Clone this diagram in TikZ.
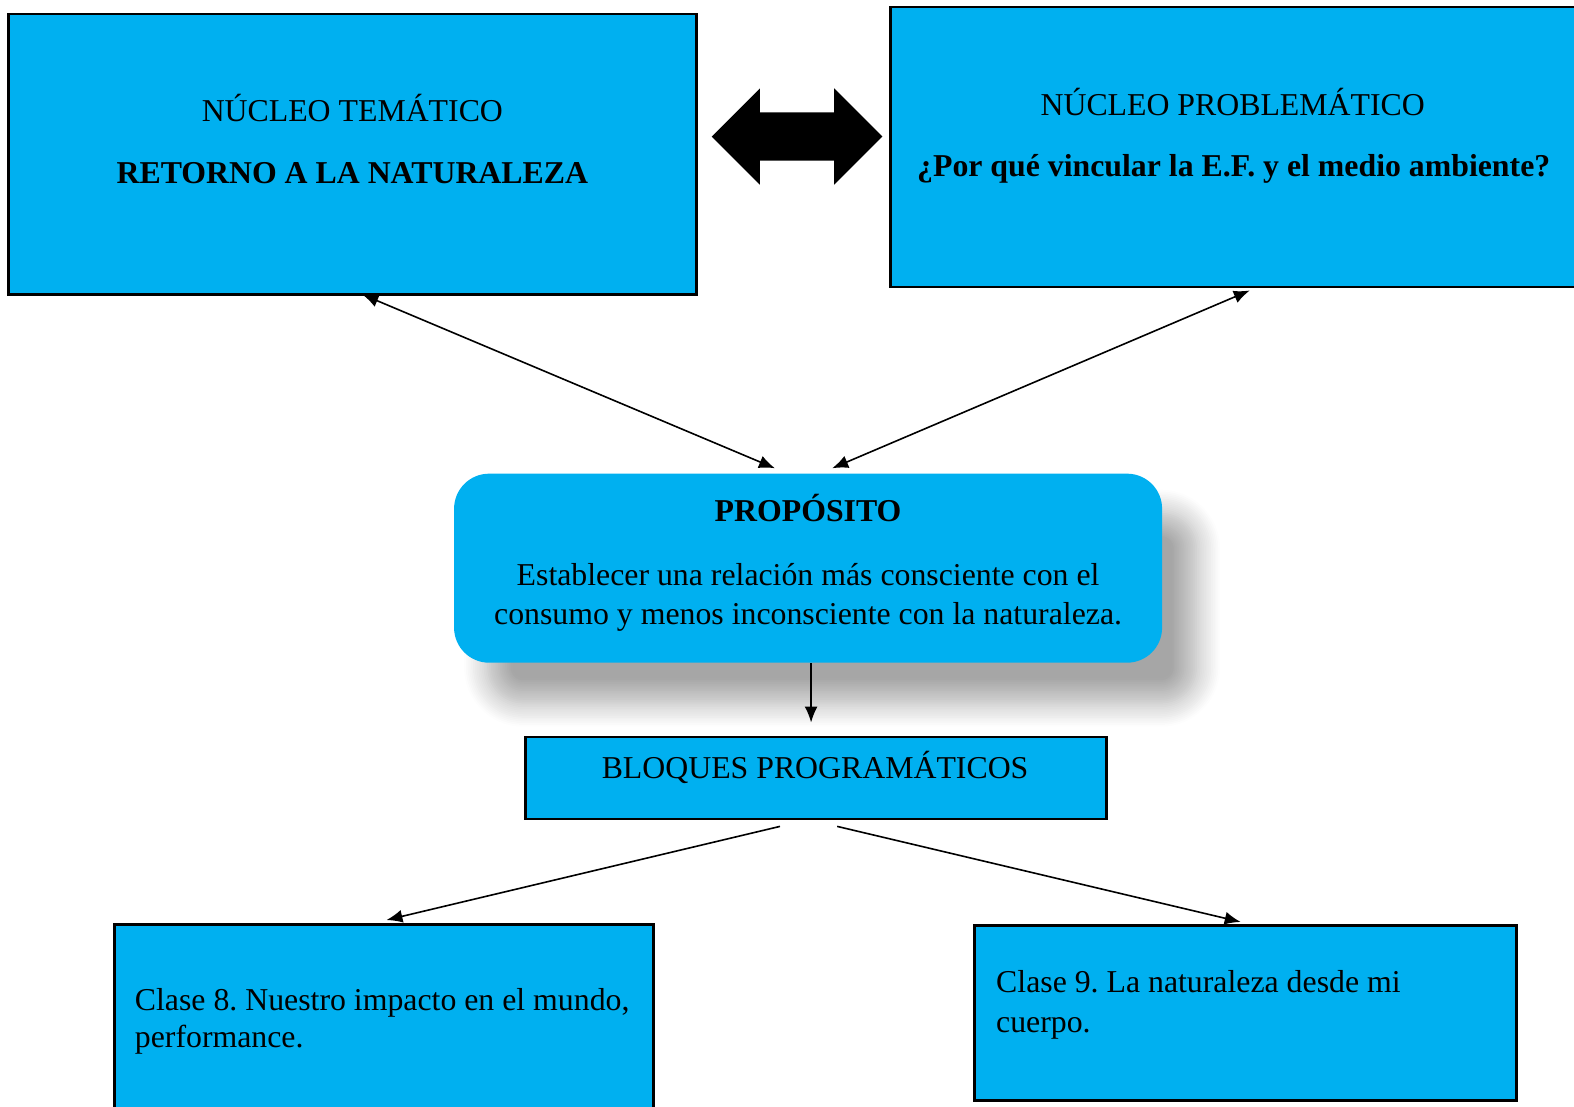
\documentclass[tikz,border=0pt]{standalone}
\usepackage{fontspec}
\setmainfont{Liberation Serif}
\frenchspacing
\usetikzlibrary{arrows.meta,calc,shadows.blur}
\definecolor{celeste}{HTML}{00B0F0}
\tikzset{
  caja/.style={draw=black, line width=1.4pt, fill=celeste, inner sep=0pt},
  cajaredonda/.style={fill=celeste, rounded corners=17.5pt, inner sep=0pt,
    blur shadow={shadow xshift=17pt, shadow yshift=-20pt, shadow blur radius=12pt, shadow blur steps=14, shadow opacity=35}},
  texto/.style={font=\fontsize{15.9}{19.5}\selectfont, inner sep=0pt},
  flecha/.style={line width=0.8pt, >={Latex[length=8pt,width=6.5pt]}},
}
\begin{document}
\begin{tikzpicture}[x=0.50191pt, y=-0.50191pt]%1px
  \useasboundingbox (0,0) rectangle (1568,1102);%枠
  \clip (0,0) rectangle (1568,1102);
  \node[caja, minimum width=344pt, minimum height=140pt] (tema) at (351.5,153.5) {};%左上
  \node[caja, minimum width=363pt, minimum height=140pt] (problema) at (1248.5,146.5) {};%右上
  \node[cajaredonda, minimum width=354pt, minimum height=94.5pt] (proposito) at (805,566) {};%中央
  \node[caja, minimum width=290.5pt, minimum height=41pt] (bloques) at (812.5,775) {};
  \node[caja, minimum width=269.5pt, minimum height=110pt] (clase8) at (382.5,1030.5) {};%左下
  \node[caja, minimum width=271pt, minimum height=87.5pt] (clase9) at (1241,1009) {};%右下
  \node[texto, anchor=base] (tematitulo) at (351,121.5) {NÚCLEO TEMÁTICO};
  \node[texto, anchor=base, font=\fontsize{15.9}{19.5}\selectfont\bfseries] (temanombre) at (351,182.5) {RETORNO A LA NATURALEZA};
  \node[texto, anchor=base] (problematitulo) at (1228,115.5) {NÚCLEO PROBLEMÁTICO};
  \node[texto, anchor=base, font=\fontsize{15.9}{19.5}\selectfont\bfseries] (problemapregunta) at (1229,176) {¿Por qué vincular la E.F. y el medio ambiente?};
  \node[texto, anchor=base, font=\fontsize{15.9}{19.5}\selectfont\bfseries] (propositotitulo) at (805,519.5) {PROPÓSITO};
  \node[texto, anchor=north, align=center] (propositotexto) at (805,561) {Establecer una relación más consciente con el\\consumo y menos inconsciente con la naturaleza.};
  \node[texto, anchor=base] (bloquestexto) at (812,775.5) {BLOQUES PROGRAMÁTICOS};
  \node[texto, anchor=north west, align=left, font=\fontsize{15.9}{18.5}\selectfont] (clase8texto) at (134,984) {Clase 8. Nuestro impacto en el mundo,\\performance.};
  \node[texto, anchor=north west, align=left, font=\fontsize{15.9}{20}\selectfont] (clase9texto) at (992,966) {Clase 9. La naturaleza desde mi\\cuerpo.};
  %二重矢印
  \coordinate (doble) at (794,136);
  \fill (doble) ++(-85,0) -- ++(48,-48) -- ++(0,24) -- ++(74,0) -- ++(0,-24) -- ++(48,48)
    -- ++(-48,48) -- ++(0,-24) -- ++(-74,0) -- ++(0,24) -- cycle;
  %線
  \draw[flecha, <->] ($(tema.south)+(9.5,-1)$) -- ($(proposito.north)+(-33,-5)$);
  \draw[flecha, <->] ($(problema.south)+(-3.5,2)$) -- ($(proposito.north)+(24,-5)$);
  \draw[flecha, ->] ($(proposito.south)+(3,0)$) -- ($(bloques.north)+(-4.5,-13)$);
  \draw[flecha, ->] ($(bloques.south)+(-35.5,6)$) -- ($(clase8.north)+(2.5,-3)$);
  \draw[flecha, ->] ($(bloques.south)+(21.5,6)$) -- ($(clase9.north)+(-5,-2)$);
\end{tikzpicture}
\end{document}
